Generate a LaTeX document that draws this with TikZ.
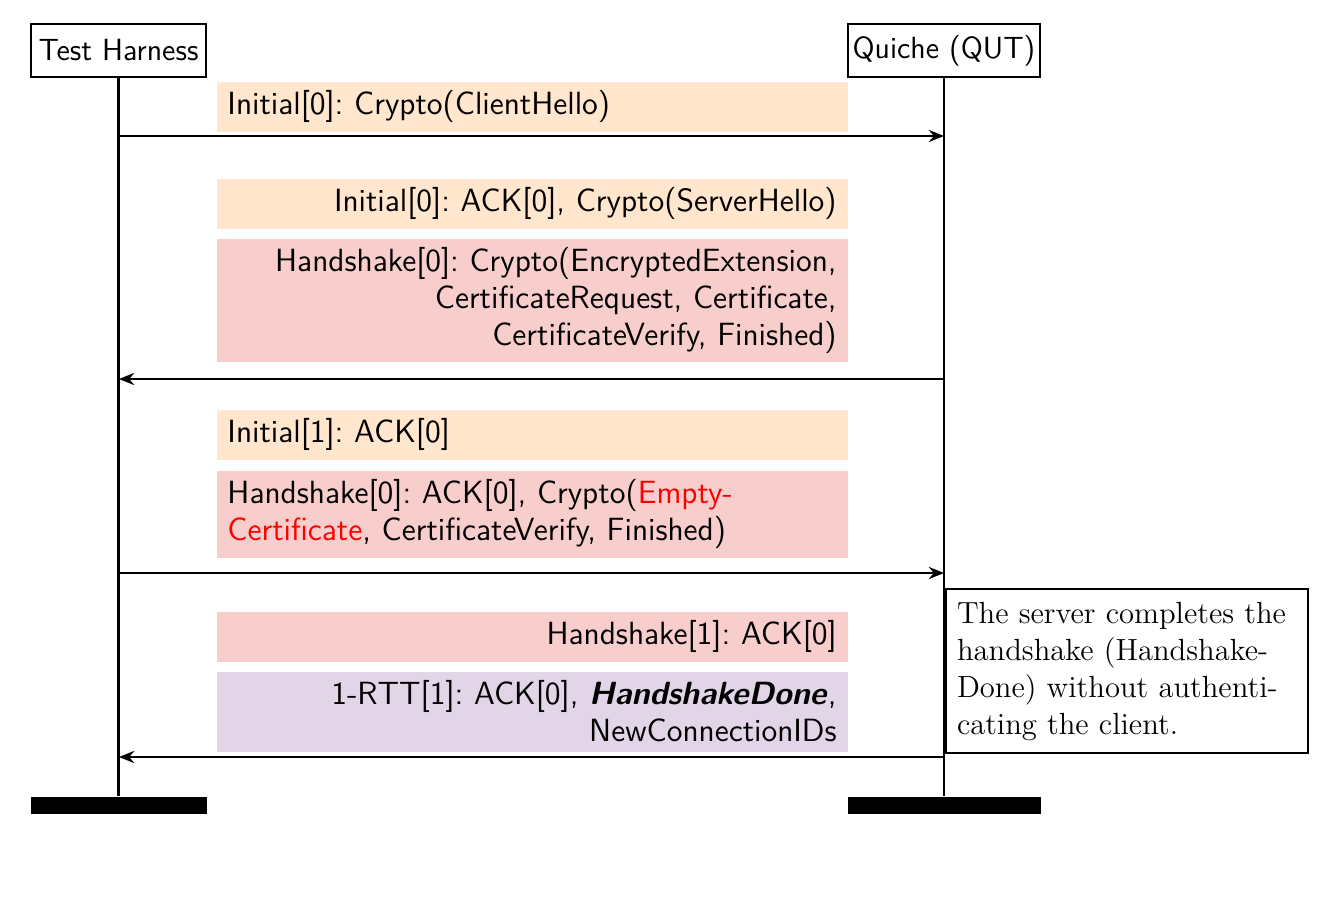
\documentclass[tikz,border=0pt]{standalone}
\usepackage{tikz}
\usepackage{xcolor}
\usetikzlibrary{arrows.meta,positioning}
\definecolor{hsInitial}{RGB}{255,230,204}
\definecolor{hsHandshake}{RGB}{248,206,204}
\definecolor{hsOneRtt}{RGB}{225,213,231}
\definecolor{hsAlert}{RGB}{255,0,0}
\frenchspacing
\tikzset{
  actor/.style={draw=black,line width=0.8pt,inner sep=0pt,
    font=\sffamily\fontsize{12}{14.5}\selectfont},
  actorend/.style={fill=black,draw=none,inner sep=0pt,minimum height=6.7pt},
  lifeline/.style={draw=black,line width=0.8pt},
  packet/.style={draw=none,anchor=north west,inner xsep=4.3pt,inner ysep=0pt,
    minimum width=247.4pt,text width=238.8pt,
    font=\sffamily\fontsize{12.6}{14.5}\selectfont},
  msg/.style={draw=black,line width=0.8pt,-{Stealth[length=6pt,width=4.8pt,inset=2pt]}},
  remark/.style={draw=black,line width=0.8pt,anchor=north west,inner xsep=4.3pt,
    minimum width=141.9pt,minimum height=64.3pt,text width=133.3pt,align=left,
    font=\rmfamily\fontsize{12}{14.5}\selectfont}
}
\begin{document}
\begin{tikzpicture}[x=0.392pt,y=-0.392pt]
  \useasboundingbox (0,0) rectangle (1334,898);
  % participants
  \node[actor,minimum width=68.6pt,minimum height=20.8pt] (harness) at (118.5,50.5) {Test Harness};
  \node[actor,minimum width=75.3pt,minimum height=20.8pt] (quiche) at (944,50.5) {Quiche (QUT)};
  \node[actorend,minimum width=69pt] (harnessEnd) at (119,805.5) {};
  \node[actorend,minimum width=75.7pt] (quicheEnd) at (944.5,805.5) {};
  \draw[lifeline] (harness.south) -- (harness.south |- harnessEnd.north);
  \draw[lifeline] (quiche.south) -- (quiche.south |- quicheEnd.north);

  % packets
  \node[packet,fill=hsInitial,minimum height=19.6pt,align=left] (pktA) at (216,81)
    {Initial[0]: Crypto(ClientHello)};
  \node[packet,fill=hsInitial,minimum height=19.6pt,align=right] (pktB) at (216,178)
    {Initial[0]: ACK[0], Crypto(ServerHello)};
  \node[packet,fill=hsHandshake,minimum height=48.6pt,align=right] (pktC) at (216,238)
    {Handshake[0]: Crypto(EncryptedExtension,\\CertificateRequest, Certificate,\\CertificateVerify, Finished)};
  \node[packet,fill=hsInitial,minimum height=19.6pt,align=left] (pktD) at (216,409)
    {Initial[1]: ACK[0]};
  \node[packet,fill=hsHandshake,minimum height=34.1pt,align=left] (pktE) at (216,470)
    {Handshake[0]: ACK[0], Crypto(\textcolor{hsAlert}{Empty-}\\\textcolor{hsAlert}{Certificate}, CertificateVerify, Finished)};
  \node[packet,fill=hsHandshake,minimum height=19.6pt,align=right] (pktF) at (216,611)
    {Handshake[1]: ACK[0]};
  \node[packet,fill=hsOneRtt,minimum height=31.4pt,align=right] (pktG) at (216,671)
    {1-RTT[1]: ACK[0], \textbf{\textit{HandshakeDone}},\\NewConnectionIDs};

  % flights
  \coordinate (flA1) at (119,136);  \coordinate (flA2) at (944,136);
  \coordinate (flB1) at (944,379);  \coordinate (flB2) at (119,379);
  \coordinate (flC1) at (119,573);  \coordinate (flC2) at (944,573);
  \coordinate (flD1) at (944,757);  \coordinate (flD2) at (119,757);
  \draw[msg] (flA1) -- (flA2);
  \draw[msg] (flB1) -- (flB2);
  \draw[msg] (flC1) -- (flC2);
  \draw[msg] (flD1) -- (flD2);

  % note
  \node[remark] (note) at (945,588)
    {The server completes the\\handshake (Handshake-\\Done) without authenti-\\cating the client.};
\end{tikzpicture}
\end{document}
